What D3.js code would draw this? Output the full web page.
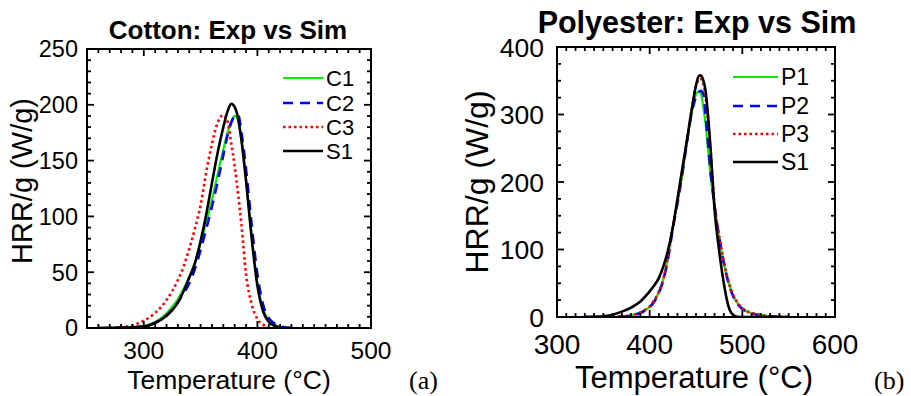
<!DOCTYPE html>
<html><head><meta charset="utf-8">
<script src="https://cdn.jsdelivr.net/npm/d3@7"></script>
<style>
html,body{margin:0;padding:0;background:#fff;}
svg{display:block;font-family:"Liberation Sans",Arial,Helvetica,sans-serif;}
</style></head>
<body><svg id="chart" width="911" height="396"></svg>
<script>
// ---------- Cotton (a) ----------
const cottonTemp = [260,270,280,290,300,310,320,325,330,335,340,345,350,355,360,365,370,374,377,380,383,386,390,395,400,405,410,415,420,425,430];
const cottonC1 = [0,0,0.3,0.8,1.8,5.5,13,19,26,35,46,59,76,95,115,138,160,176,185,190,186,168,133,82,40,17,7,2.5,0.8,0.2,0];
const cottonC2 = [0,0,0.2,0.6,1.4,4.8,11.5,16.5,23,31,40,53,70,89,109,131,155,174,184,190,191,175,142,92,48,21,9,4,1.5,0.4,0];
const cottonC3 = [0,0.1,0.7,2.5,6.5,13.5,25,33,43,55,71,89,110,140,165,184,191,184,165,145,120,92,48,21,8,3,0.5,0,0,0,0];
const cottonS1 = [0,0.1,0.3,0.6,1.2,4.5,11,16,23,33,45,58,78,102,130,157,180,195,201,198,188,168,132,80,38,15,5.5,2,0.5,0,0];
const cottonXTicks = [300,400,500];
const cottonYTicks = [0,50,100,150,200,250];
const cottonLabels = ["C1","C2","C3","S1"];

// ---------- Polyester (b) ----------
const polyTemp = [330,340,350,360,370,380,390,395,400,405,410,415,420,425,430,435,440,445,450,453,455,458,460,463,466,470,475,480,485,490,495,500,505,510,520,530,540,550];
const polyP1 = [0,0,0.1,0.3,0.8,2.5,6.5,10,15,24,37,57,92,133,170,210,257,300,330,334,332,310,290,248,205,165,118,80,52,32,20,12,8,5.5,3,1,0.3,0];
const polyP2 = [0,0,0.1,0.3,0.7,2.3,6,9.5,14.5,23,36,56,88,131,168,210,257,300,326,333,335,330,305,258,212,165,118,80,51,31,19,12,8,5,2.5,1,0.2,0];
const polyP3 = [0,0,0.1,0.3,0.9,2.6,6.8,10.5,15.5,25,38,58,91,134,171,213,260,304,342,352,353,345,330,290,240,168,120,82,53,33,21,13,8.5,6,3,1.2,0.4,0];
const polyS1 = [0,0.4,1,3.5,8,14,23,30,38,47,58,76,100,133,175,218,260,304,343,357,358,350,338,298,244,160,98,50,16,3,0.3,0,0,0,0,0,0,0];
const polyXTicks = [300,400,500,600];
const polyYTicks = [0,100,200,300,400];
const polyLabels = ["P1","P2","P3","S1"];

const styles = [
  {color:"#00ee00", width:2.2, dash:null},
  {color:"#0000ff", width:2.6, dash:"10,7"},
  {color:"#ff0000", width:2.6, dash:"2.5,3"},
  {color:"#000000", width:2.6, dash:null}
];

const svg = d3.select("#chart");

function panel(cfg){
  const g = svg.append("g");
  const x = d3.scaleLinear().domain(cfg.xDomain).range([cfg.left, cfg.right]);
  const y = d3.scaleLinear().domain(cfg.yDomain).range([cfg.bottom, cfg.top]);

  const clipId = "clip" + cfg.id;
  svg.append("clipPath").attr("id", clipId).append("rect")
    .attr("x", cfg.left).attr("y", cfg.top)
    .attr("width", cfg.right - cfg.left).attr("height", cfg.bottom - cfg.top);

  const line = d3.line().x(d => x(d[0])).y(d => y(d[1])).curve(d3.curveMonotoneX);
  [0,1,2,3].forEach(i => {
    const s = cfg.series[i], st = styles[i];
    const pts = cfg.temp.map((t,k) => [t, s[k]]);
    g.append("path").attr("d", line(pts))
      .attr("clip-path", `url(#${clipId})`)
      .attr("fill","none").attr("stroke", st.color).attr("stroke-width", st.width)
      .attr("stroke-dasharray", st.dash).attr("stroke-linejoin","round");
  });

  const xMinor = d3.range(cfg.xDomain[0], cfg.xDomain[1] + 0.001, cfg.xMinorStep);
  const yMinor = d3.range(cfg.yDomain[0], cfg.yDomain[1] + 0.001, cfg.yMinorStep);
  const tk = g.append("g").attr("stroke","#000").attr("stroke-width",1.8);
  xMinor.forEach(v => {
    const major = cfg.xTicks.includes(v);
    const L = major ? 7 : 4;
    tk.append("line").attr("x1",x(v)).attr("x2",x(v)).attr("y1",cfg.bottom).attr("y2",cfg.bottom-L);
    tk.append("line").attr("x1",x(v)).attr("x2",x(v)).attr("y1",cfg.top).attr("y2",cfg.top+L);
  });
  yMinor.forEach(v => {
    const major = cfg.yTicks.includes(v);
    const L = major ? 7 : 4;
    tk.append("line").attr("y1",y(v)).attr("y2",y(v)).attr("x1",cfg.left).attr("x2",cfg.left+L);
    tk.append("line").attr("y1",y(v)).attr("y2",y(v)).attr("x1",cfg.right).attr("x2",cfg.right-L);
  });

  g.append("rect").attr("x",cfg.left).attr("y",cfg.top)
    .attr("width",cfg.right-cfg.left).attr("height",cfg.bottom-cfg.top)
    .attr("fill","none").attr("stroke","#000").attr("stroke-width",2);

  g.selectAll(".xl").data(cfg.xTicks).enter().append("text")
    .attr("x", d => x(d)).attr("y", cfg.xLabelY)
    .attr("text-anchor","middle").attr("font-size", cfg.xTickFont).attr("fill","#000")
    .text(d => d);
  g.selectAll(".yl").data(cfg.yTicks).enter().append("text")
    .attr("x", cfg.left - cfg.yLabelGap).attr("y", d => y(d))
    .attr("dy","0.36em")
    .attr("text-anchor","end").attr("font-size", cfg.yTickFont).attr("fill","#000")
    .text(d => d);

  g.append("text").attr("x", cfg.titleX).attr("y", cfg.titleY)
    .attr("text-anchor","middle").attr("font-weight","bold")
    .attr("font-size", cfg.titleFont).text(cfg.title);

  g.append("text").attr("x", cfg.xTitleX).attr("y", cfg.xTitleY)
    .attr("text-anchor","middle").attr("font-size", cfg.xTitleFont).text("Temperature (°C)");
  g.append("text").attr("transform", `translate(${cfg.yTitleX},${cfg.yTitleY}) rotate(-90)`)
    .attr("text-anchor","middle").attr("font-size", cfg.yTitleFont).text("HRR/g (W/g)");

  g.append("text").attr("x", cfg.letterX).attr("y", cfg.letterY)
    .attr("font-family","'Liberation Serif','Times New Roman',serif")
    .attr("font-size", cfg.letterFont).text(cfg.letter);

  cfg.labels.forEach((lab, i) => {
    const st = styles[i];
    const ly = cfg.legY[i];
    g.append("line").attr("x1", cfg.legX1).attr("x2", cfg.legX2).attr("y1", ly).attr("y2", ly)
      .attr("stroke", st.color).attr("stroke-width", st.width).attr("stroke-dasharray", st.dash);
    g.append("text").attr("x", cfg.legX2 + 3).attr("y", ly).attr("dy","0.36em")
      .attr("font-size", cfg.legFont).text(lab);
  });
}

panel({
  id:"a", temp: cottonTemp, series:[cottonC1,cottonC2,cottonC3,cottonS1], labels: cottonLabels,
  xDomain:[250,500], yDomain:[0,250], left:87, right:371, top:49, bottom:328,
  xMinorStep:10, yMinorStep:10, xTicks: cottonXTicks, yTicks: cottonYTicks,
  xLabelY:359, xTickFont:24.5, yLabelGap:9, yTickFont:23.5,
  title:"Cotton: Exp vs Sim", titleX:228, titleY:39, titleFont:26,
  xTitleX:229, xTitleY:389, xTitleFont:26.5,
  yTitleX:32, yTitleY:181, yTitleFont:29,
  letter:"(a)", letterX:409, letterY:389, letterFont:26,
  legX1:283, legX2:323, legY:[78,103,127,151], legFont:22
});

panel({
  id:"b", temp: polyTemp, series:[polyP1,polyP2,polyP3,polyS1], labels: polyLabels,
  xDomain:[300,600], yDomain:[0,400], left:557, right:835, top:47, bottom:317,
  xMinorStep:10, yMinorStep:25, xTicks: polyXTicks, yTicks: polyYTicks,
  xLabelY:354, xTickFont:28, yLabelGap:13, yTickFont:26.5,
  title:"Polyester: Exp vs Sim", titleX:697, titleY:33, titleFont:30.5,
  xTitleX:694, xTitleY:388, xTitleFont:31,
  yTitleX:488, yTitleY:182, yTitleFont:32,
  letter:"(b)", letterX:874, letterY:389, letterFont:26,
  legX1:733, legX2:778, legY:[77,106,134,162], legFont:23
});
</script></body></html>
